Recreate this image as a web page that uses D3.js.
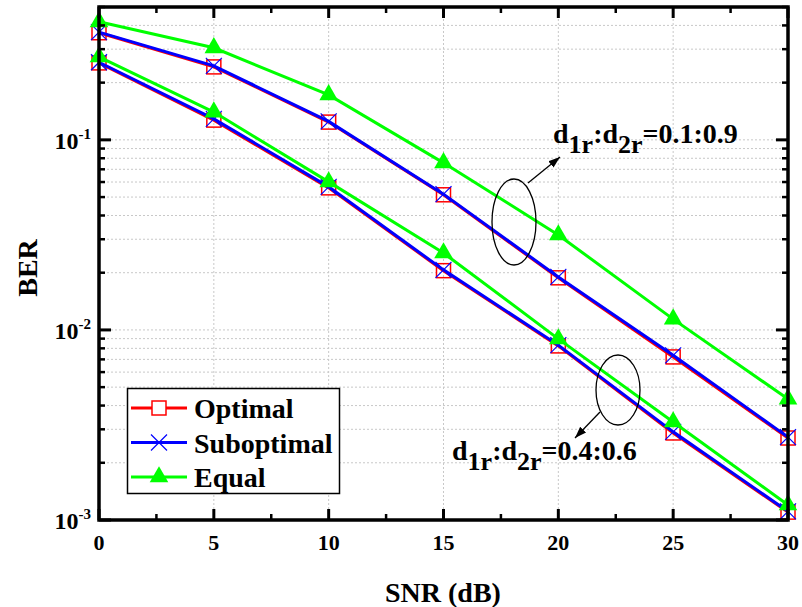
<!DOCTYPE html>
<html>
<head>
<meta charset="utf-8">
<script src="https://cdn.jsdelivr.net/npm/d3@7"></script>
<style>
  body { margin: 0; background: #fff; }
  text { font-family: "Liberation Serif", "Times New Roman", serif; font-weight: bold; }
</style>
</head>
<body>
<svg id="chart" width="802" height="607"></svg>
<script>
// SNR values on the x axis
const snr = [0, 5, 10, 15, 20, 25, 30];

// d1r:d2r = 0.1:0.9 group
const optimalA    = [0.366, 0.242, 0.124, 0.0514, 0.0188, 0.00721, 0.00270];
const suboptimalA = [0.369, 0.245, 0.125, 0.0518, 0.0190, 0.00735, 0.00273];
const equalA      = [0.418, 0.305, 0.1725, 0.0757, 0.0316, 0.0114, 0.00433];

// d1r:d2r = 0.4:0.6 group
const optimalB    = [0.254, 0.127, 0.0559, 0.0205, 0.00824, 0.00287, 0.00110];
const suboptimalB = [0.256, 0.129, 0.0566, 0.0207, 0.00832, 0.00291, 0.00111];
const equalB      = [0.273, 0.140, 0.0601, 0.0254, 0.00897, 0.00328, 0.00120];

const xTicks = [0, 5, 10, 15, 20, 25, 30];
const yMajor = [1e-3, 1e-2, 1e-1];

const svg = d3.select("#chart");
const pLeft = 99, pRight = 788, pTop = 7, pBottom = 520;

const x = d3.scaleLinear().domain([0, 30]).range([pLeft, pRight]);
const y = d3.scaleLog().domain([1e-3, 0.5]).range([pBottom, pTop]);

// minor y ticks 2..9 per decade
const yMinor = [];
yMajor.forEach(m => {
  for (let k = 2; k <= 9; k++) {
    const v = m * k;
    if (v <= 0.5) yMinor.push(v);
  }
});
const xMinor = d3.range(2.5, 30, 5);

// grid lines, light dotted
const grid = svg.append("g").attr("stroke", "#c8c8c8").attr("stroke-width", 1).attr("stroke-dasharray", "2,2");
grid.selectAll(".gy").data(yMajor.concat(yMinor).filter(v => v > 1e-3))
  .enter().append("line")
  .attr("x1", pLeft).attr("x2", pRight)
  .attr("y1", d => y(d)).attr("y2", d => y(d));
grid.selectAll(".gx").data(xTicks.filter(v => v > 0 && v < 30))
  .enter().append("line")
  .attr("y1", pTop).attr("y2", pBottom)
  .attr("x1", d => x(d)).attr("x2", d => x(d));

// curves
const line = d3.line().x((d, i) => x(snr[i])).y(d => y(d));

function drawSeries(vals, color, width) {
  svg.append("path").datum(vals)
    .attr("d", line)
    .attr("fill", "none")
    .attr("stroke", color)
    .attr("stroke-width", width);
}

function squares(vals) {
  svg.append("g").selectAll("rect").data(vals).enter().append("rect")
    .attr("x", (d, i) => x(snr[i]) - 7)
    .attr("y", d => y(d) - 7)
    .attr("width", 14).attr("height", 14)
    .attr("fill", "none")
    .attr("stroke", "#ff0000").attr("stroke-width", 1.5);
}

function crosses(vals) {
  const g = svg.append("g").attr("stroke", "#0000ff").attr("stroke-width", 1.2);
  vals.forEach((d, i) => {
    const cx = x(snr[i]), cy = y(d), s = 8;
    g.append("line").attr("x1", cx - s).attr("y1", cy - s).attr("x2", cx + s).attr("y2", cy + s);
    g.append("line").attr("x1", cx - s).attr("y1", cy + s).attr("x2", cx + s).attr("y2", cy - s);
  });
}

const tri = d3.symbol().type(d3.symbolTriangle).size(150);
function triangles(vals) {
  svg.append("g").selectAll("path").data(vals).enter().append("path")
    .attr("d", tri)
    .attr("transform", (d, i) => `translate(${x(snr[i])},${y(d)})`)
    .attr("fill", "#00ff00");
}

// red optimal, then blue suboptimal over it, then green equal
[optimalA, optimalB].forEach(v => drawSeries(v, "#ff0000", 3));
[optimalA, optimalB].forEach(v => squares(v));
[suboptimalA, suboptimalB].forEach(v => drawSeries(v, "#0000ff", 3));
[suboptimalA, suboptimalB].forEach(v => crosses(v));
[equalA, equalB].forEach(v => drawSeries(v, "#00ff00", 3));
[equalA, equalB].forEach(v => triangles(v));

// ticks on all four sides, pointing inward
const tk = svg.append("g").attr("stroke", "#000").attr("stroke-width", 3);
yMajor.forEach(v => {
  tk.append("line").attr("x1", pLeft).attr("x2", pLeft + 12).attr("y1", y(v)).attr("y2", y(v));
  tk.append("line").attr("x1", pRight).attr("x2", pRight - 12).attr("y1", y(v)).attr("y2", y(v));
});
yMinor.forEach(v => {
  tk.append("line").attr("x1", pLeft).attr("x2", pLeft + 6).attr("y1", y(v)).attr("y2", y(v)).attr("stroke-width", 2.5);
  tk.append("line").attr("x1", pRight).attr("x2", pRight - 6).attr("y1", y(v)).attr("y2", y(v)).attr("stroke-width", 2.5);
});
xTicks.forEach(v => {
  tk.append("line").attr("x1", x(v)).attr("x2", x(v)).attr("y1", pBottom).attr("y2", pBottom - 11);
  tk.append("line").attr("x1", x(v)).attr("x2", x(v)).attr("y1", pTop).attr("y2", pTop + 11);
});
xMinor.forEach(v => {
  tk.append("line").attr("x1", x(v)).attr("x2", x(v)).attr("y1", pBottom).attr("y2", pBottom - 6).attr("stroke-width", 2.5);
  tk.append("line").attr("x1", x(v)).attr("x2", x(v)).attr("y1", pTop).attr("y2", pTop + 6).attr("stroke-width", 2.5);
});

// frame
svg.append("rect")
  .attr("x", pLeft).attr("y", pTop)
  .attr("width", pRight - pLeft).attr("height", pBottom - pTop)
  .attr("fill", "none").attr("stroke", "#000").attr("stroke-width", 3.5);

// tick labels
svg.append("g").selectAll("text").data(xTicks).enter().append("text")
  .attr("x", d => x(d)).attr("y", 550)
  .attr("text-anchor", "middle")
  .attr("font-size", 22)
  .text(d => d);

yMajor.forEach(v => {
  const t = svg.append("text")
    .attr("x", 91).attr("y", y(v) + 9)
    .attr("text-anchor", "end")
    .attr("font-size", 24);
  t.append("tspan").text("10");
  t.append("tspan").attr("dy", -10).attr("font-size", 15).text(Math.round(Math.log10(v)));
});

// axis titles
svg.append("text")
  .attr("x", 443).attr("y", 602)
  .attr("text-anchor", "middle")
  .attr("font-size", 28)
  .text("SNR (dB)");
svg.append("text")
  .attr("transform", "translate(37,268) rotate(-90)")
  .attr("text-anchor", "middle")
  .attr("font-size", 28)
  .text("BER");

// legend
const legend = svg.append("g");
legend.append("rect")
  .attr("x", 127.5).attr("y", 388.5).attr("width", 212).attr("height", 105)
  .attr("fill", "#fff").attr("stroke", "#000").attr("stroke-width", 1.5);
const legItems = [
  { name: "Optimal", color: "#ff0000", mark: "square" },
  { name: "Suboptimal", color: "#0000ff", mark: "cross" },
  { name: "Equal", color: "#00ff00", mark: "triangle" }
];
legItems.forEach((it, i) => {
  const ly = 408 + i * 34.5;
  legend.append("line").attr("x1", 131).attr("x2", 187).attr("y1", ly).attr("y2", ly)
    .attr("stroke", it.color).attr("stroke-width", 3);
  if (it.mark === "square") {
    legend.append("rect").attr("x", 152).attr("y", ly - 7).attr("width", 14).attr("height", 14)
      .attr("fill", "#fff").attr("stroke", it.color).attr("stroke-width", 1.5);
  } else if (it.mark === "cross") {
    legend.append("path").attr("d", `M151,${ly - 8}L167,${ly + 8}M151,${ly + 8}L167,${ly - 8}`)
      .attr("stroke", it.color).attr("stroke-width", 1.2);
  } else {
    legend.append("path").attr("d", tri).attr("transform", `translate(159,${ly})`).attr("fill", it.color);
  }
  legend.append("text").attr("x", 194).attr("y", ly + 10)
    .attr("font-size", 28)
    .text(it.name);
});

// annotations: ellipses, arrows and ratio labels
const defs = svg.append("defs");
defs.append("marker")
  .attr("id", "arrow").attr("viewBox", "0 0 10 10")
  .attr("refX", 10).attr("refY", 5)
  .attr("markerWidth", 9).attr("markerHeight", 9)
  .attr("orient", "auto")
  .append("path").attr("d", "M0,1.5L10,5L0,8.5Z").attr("fill", "#000");

function note(cx, cy, rx, ry, ax1, ay1, ax2, ay2, tx, ty, ratio) {
  svg.append("ellipse").attr("cx", cx).attr("cy", cy).attr("rx", rx).attr("ry", ry)
    .attr("fill", "none").attr("stroke", "#000").attr("stroke-width", 1.3);
  svg.append("line").attr("x1", ax1).attr("y1", ay1).attr("x2", ax2).attr("y2", ay2)
    .attr("stroke", "#000").attr("stroke-width", 1.3).attr("marker-end", "url(#arrow)");
  const t = svg.append("text").attr("x", tx).attr("y", ty).attr("font-size", 28);
  t.append("tspan").text("d");
  t.append("tspan").attr("dy", 10).attr("font-size", 26).text("1r");
  t.append("tspan").attr("dy", -10).text(":d");
  t.append("tspan").attr("dy", 10).attr("font-size", 26).text("2r");
  t.append("tspan").attr("dy", -10).text("=" + ratio);
}

note(514, 222, 22, 43, 528, 183, 560, 157, 553, 143, "0.1:0.9");
note(618, 390, 22, 35, 600, 412, 575, 438, 452, 460, "0.4:0.6");
</script>
</body>
</html>
